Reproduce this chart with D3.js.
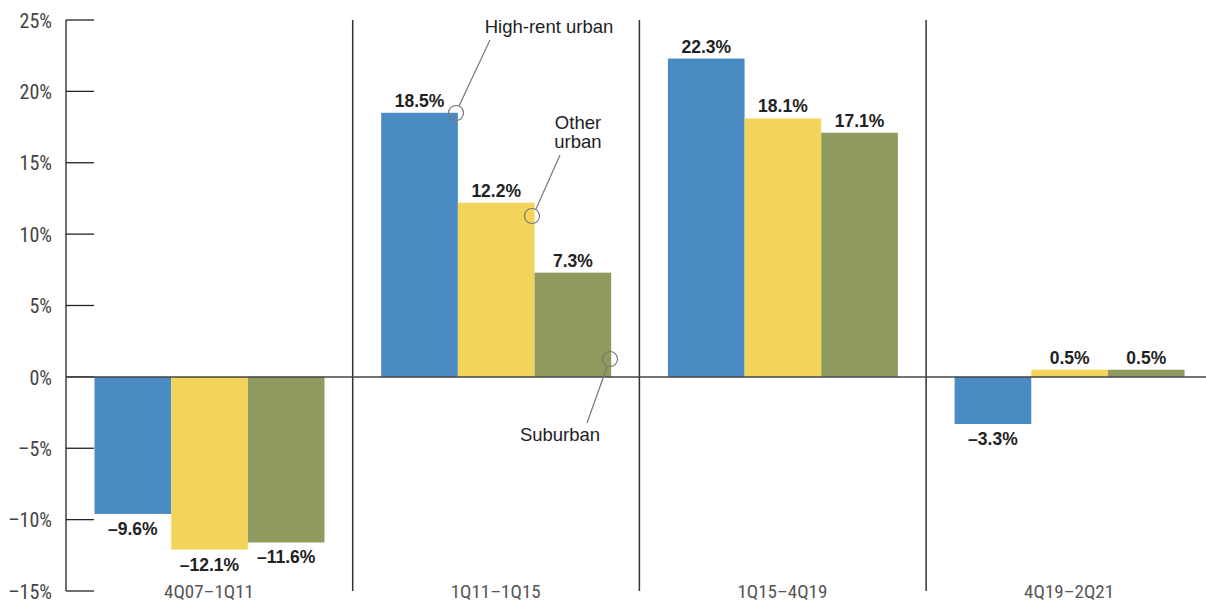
<!DOCTYPE html>
<html><head><meta charset="utf-8">
<script src="https://cdn.jsdelivr.net/npm/d3@7"></script>
<style>body{margin:0;background:#fff}</style>
</head><body>
<script>
const categories = ["4Q07–1Q11", "1Q11–1Q15", "1Q15–4Q19", "4Q19–2Q21"];
const seriesNames = ["High-rent urban", "Other urban", "Suburban"];
const highRent = [-9.6, 18.5, 22.3, -3.3];
const otherUrban = [-12.1, 12.2, 18.1, 0.5];
const suburban = [-11.6, 7.3, 17.1, 0.5];
const tickValues = [-15, -10, -5, 0, 5, 10, 15, 20, 25];
const colors = ["#4a8bc3", "#f3d45a", "#8f9a5e"];
const series = [highRent, otherUrban, suburban];

const W = 1206, H = 603;
const svg = d3.select("body").append("svg").attr("width", W).attr("height", H);
const condensed = "'Liberation Sans Narrow','Roboto Condensed','Arial Narrow',sans-serif";
const bold = "'Liberation Sans',Arial,Helvetica,sans-serif";

const y = d3.scaleLinear().domain([-15, 25]).range([591, 20]);
const x0 = d3.scaleBand().domain(categories).range([66, 66 + 4 * 286.7]).paddingInner(0).paddingOuter(0);
const x1 = d3.scaleBand().domain(seriesNames).range([28.5, 258.5]);

// y axis ticks
const yAxis = d3.axisLeft(y).tickValues(tickValues).tickSize(0).tickFormat(d => (d < 0 ? "–" + Math.abs(d) : d) + "%");
const ga = svg.append("g").attr("transform", "translate(55,0)").call(yAxis);
ga.select(".domain").remove();
ga.selectAll("text").attr("font-family", condensed).attr("font-size", 20).attr("fill", "#444").attr("dy", "0.36em");
svg.append("g").selectAll("line").data(tickValues).join("line")
  .attr("x1", 66).attr("x2", 94).attr("y1", d => y(d)).attr("y2", d => y(d))
  .attr("stroke", "#222").attr("stroke-width", 1.3);
svg.append("line").attr("x1", 66).attr("x2", 66).attr("y1", y(25)).attr("y2", y(-15)).attr("stroke", "#222").attr("stroke-width", 1.3);

// group separators
svg.append("g").selectAll("line").data(categories.slice(1)).join("line")
  .attr("x1", d => x0(d)).attr("x2", d => x0(d)).attr("y1", y(25)).attr("y2", y(-15))
  .attr("stroke", "#333").attr("stroke-width", 1.5);

// bars
const groups = svg.append("g").selectAll("g").data(categories).join("g")
  .attr("transform", d => `translate(${x0(d)},0)`);
groups.each(function(cat, ci) {
  const g = d3.select(this);
  seriesNames.forEach((s, si) => {
    const v = series[si][ci];
    g.append("rect").attr("x", x1(s)).attr("width", x1.bandwidth())
      .attr("y", y(Math.max(0, v))).attr("height", Math.abs(y(v) - y(0)))
      .attr("fill", colors[si]);
    g.append("text").attr("x", x1(s) + x1.bandwidth() / 2)
      .attr("y", v >= 0 ? y(v) - 6 : y(v) + 21)
      .attr("text-anchor", "middle").attr("font-family", bold).attr("font-weight", "bold")
      .attr("font-size", 17.5).attr("fill", "#222")
      .text((v < 0 ? "–" + Math.abs(v).toFixed(1) : v.toFixed(1)) + "%");
  });
});

// zero line
svg.append("line").attr("x1", 66).attr("x2", W).attr("y1", y(0)).attr("y2", y(0)).attr("stroke", "#444").attr("stroke-width", 1.5);

// category labels
svg.append("g").selectAll("text").data(categories).join("text")
  .attr("x", d => x0(d) + 143).attr("y", 598)
  .attr("text-anchor", "middle").attr("font-family", condensed).attr("font-size", 19).attr("fill", "#555")
  .text(d => d);

// annotations
const ann = svg.append("g").attr("font-family", bold).attr("font-size", 18.5).attr("fill", "#222");
function callout(cx, cy, lx1, ly1, lx2, ly2) {
  ann.append("line").attr("x1", lx1).attr("y1", ly1).attr("x2", lx2).attr("y2", ly2).attr("stroke", "#777").attr("stroke-width", 1.2);
  ann.append("circle").attr("cx", cx).attr("cy", cy).attr("r", 7.5).attr("fill", "none").attr("stroke", "#777").attr("stroke-width", 1.2);
}
callout(456, 113, 490, 40, 459, 106);
ann.append("text").attr("x", 549).attr("y", 33).attr("text-anchor", "middle").text(seriesNames[0]);
callout(532, 216, 560, 155, 536, 209);
ann.append("text").attr("x", 578).attr("y", 129).attr("text-anchor", "middle").text("Other");
ann.append("text").attr("x", 578).attr("y", 148).attr("text-anchor", "middle").text("urban");
callout(610, 359, 607, 367, 587, 423);
ann.append("text").attr("x", 560).attr("y", 441).attr("text-anchor", "middle").text(seriesNames[2]);
</script>
</body></html>
